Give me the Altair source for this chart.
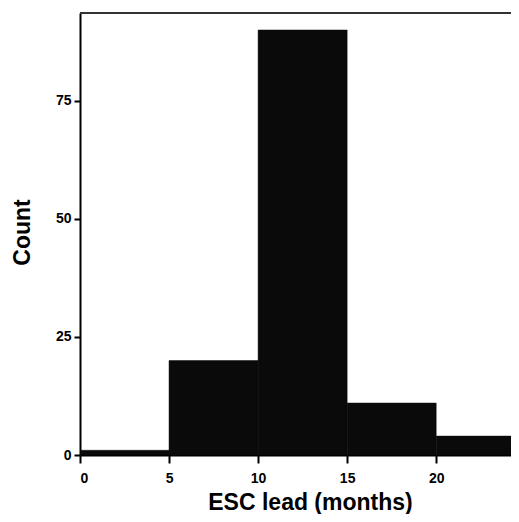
import altair as alt
import pandas as pd

bin_start = [0, 5, 10, 15, 20]
bin_end = [5, 10, 15, 20, 25]
counts = [1, 20, 90, 11, 4]
x_ticks = [0, 5, 10, 15, 20]
y_ticks = [0, 25, 50, 75]

df = pd.DataFrame({"start": bin_start, "end": bin_end, "count": counts})

W, H = 431, 442
FONT = "Liberation Sans"

bars = alt.Chart(df).mark_bar(color="#0a0a0a", clip=True, stroke="#0a0a0a", strokeWidth=0.5).encode(
    x=alt.X("start:Q",
            scale=alt.Scale(domain=[0, 24.2], nice=False, zero=False),
            axis=alt.Axis(values=x_ticks, title="ESC lead (months)", grid=False,
                          tickSize=8, tickWidth=2, tickColor="#000", domainColor="#000",
                          domainWidth=2, labelFontSize=14, labelFontWeight="bold",
                          labelPadding=8, labelFont=FONT, labelColor="#000",
                          titleFont=FONT, titleFontSize=23, titleFontWeight="bold",
                          titleColor="#000", titleX=230, titleY=47,
                          titleBaseline="middle", titleAlign="center")),
    x2="end:Q",
    y=alt.Y("count:Q",
            scale=alt.Scale(domain=[0, 93.6], nice=False),
            axis=alt.Axis(values=y_ticks, title="Count", grid=False,
                          tickSize=6, tickWidth=2, tickColor="#000", domainColor="#000",
                          domainWidth=2, labelFontSize=14, labelFontWeight="bold",
                          labelPadding=3, labelFont=FONT, labelColor="#000",
                          titleFont=FONT, titleFontSize=23, titleFontWeight="bold",
                          titleColor="#000", titleX=-58, titleY=219,
                          titleBaseline="middle", titleAlign="center", titleAngle=-90)),
    y2=alt.datum(0),
)

top = alt.Chart(df).mark_rule(color="#333", strokeWidth=1.5).encode(
    x=alt.value(0), x2=alt.value(W), y=alt.value(0)
)

chart = alt.layer(bars, top).properties(
    width=W, height=H,
    padding={"left": 72, "top": 5, "right": 0, "bottom": 59},
    autosize="none",
).configure_view(stroke=None)

chart.save("out.html", embed_options={"renderer": "svg", "actions": False})
